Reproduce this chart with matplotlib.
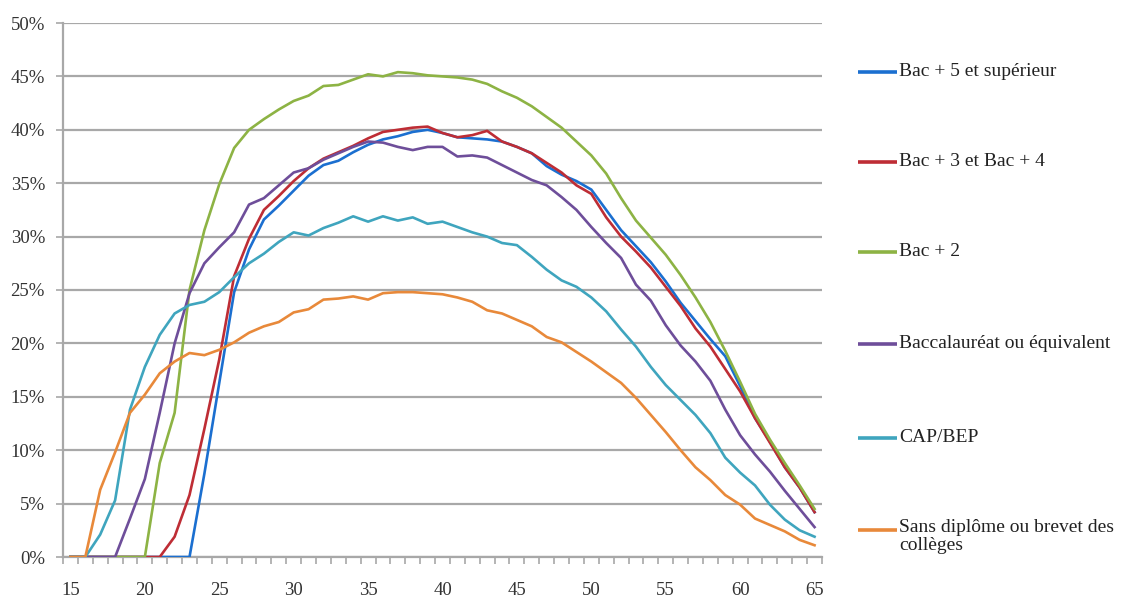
import numpy as np
import matplotlib
matplotlib.use("Agg")
import matplotlib.pyplot as plt
from matplotlib.lines import Line2D
from matplotlib.ticker import FuncFormatter

ages = list(range(15, 66))

series_names = [
    "Bac + 5 et supérieur",
    "Bac + 3 et Bac + 4",
    "Bac + 2",
    "Baccalauréat ou équivalent",
    "CAP/BEP",
    "Sans diplôme ou brevet des\ncollèges",
]

bac5 = [0, 0, 0, 0, 0, 0, 0, 0, 0, 7.8, 16.3, 24.8, 28.8, 31.6, 32.9, 34.3, 35.7, 36.7, 37.1, 37.9,
        38.6, 39.1, 39.4, 39.8, 40.0, 39.7, 39.3, 39.2, 39.1, 38.9, 38.4, 37.8, 36.6, 35.8, 35.2,
        34.4, 32.5, 30.6, 29.1, 27.6, 25.8, 23.8, 22.1, 20.4, 18.8, 16.0, 13.0, 10.8, 8.4, 6.5, 4.2]
bac34 = [0, 0, 0, 0, 0, 0, 0, 1.9, 5.8, 12.0, 18.5, 26.3, 29.8, 32.5, 33.8, 35.2, 36.4, 37.3, 37.9, 38.5,
         39.2, 39.8, 40.0, 40.2, 40.3, 39.7, 39.3, 39.5, 39.9, 38.9, 38.4, 37.8, 36.9, 36.0, 34.8,
         34.0, 31.8, 30.0, 28.6, 27.1, 25.3, 23.5, 21.4, 19.7, 17.6, 15.5, 13.0, 10.7, 8.4, 6.5, 4.2]
bac2 = [0, 0, 0, 0, 0, 0, 8.8, 13.5, 25.0, 30.6, 34.9, 38.3, 40.0, 41.0, 41.9, 42.7, 43.2, 44.1, 44.2, 44.7,
        45.2, 45.0, 45.4, 45.3, 45.1, 45.0, 44.9, 44.7, 44.3, 43.6, 43.0, 42.2, 41.2, 40.2, 38.9,
        37.6, 35.9, 33.6, 31.5, 29.9, 28.3, 26.4, 24.3, 22.0, 19.3, 16.4, 13.4, 11.0, 8.8, 6.7, 4.5]
bac = [0, 0, 0, 0, 3.6, 7.3, 13.5, 20.0, 24.7, 27.5, 29.0, 30.4, 33.0, 33.6, 34.8, 36.0, 36.4, 37.2, 37.8, 38.4,
       38.9, 38.8, 38.4, 38.1, 38.4, 38.4, 37.5, 37.6, 37.4, 36.7, 36.0, 35.3, 34.8, 33.7, 32.5,
       30.9, 29.4, 28.0, 25.5, 24.0, 21.7, 19.8, 18.3, 16.5, 13.8, 11.4, 9.6, 8.0, 6.2, 4.5, 2.8]
cap = [0, 0, 2.1, 5.3, 13.8, 17.8, 20.8, 22.8, 23.6, 23.9, 24.8, 26.2, 27.5, 28.4, 29.5, 30.4, 30.1, 30.8, 31.3, 31.9,
       31.4, 31.9, 31.5, 31.8, 31.2, 31.4, 30.9, 30.4, 30.0, 29.4, 29.2, 28.1, 26.9, 25.9, 25.3,
       24.3, 23.0, 21.3, 19.7, 17.8, 16.1, 14.7, 13.3, 11.6, 9.3, 7.9, 6.7, 4.9, 3.5, 2.5, 1.9]
sans = [0, 0, 6.3, 9.8, 13.5, 15.2, 17.2, 18.3, 19.1, 18.9, 19.4, 20.1, 21.0, 21.6, 22.0, 22.9, 23.2, 24.1, 24.2, 24.4,
        24.1, 24.7, 24.8, 24.8, 24.7, 24.6, 24.3, 23.9, 23.1, 22.8, 22.2, 21.6, 20.6, 20.1, 19.2,
        18.3, 17.3, 16.3, 14.9, 13.3, 11.7, 10.0, 8.4, 7.2, 5.8, 4.9, 3.6, 3.0, 2.4, 1.6, 1.1]

values = [bac5, bac34, bac2, bac, cap, sans]
colors = ["#1B6FD0", "#BE2D35", "#8DB344", "#6E4E9A", "#3FA5BE", "#E8893A"]

x_labels = [15, 20, 25, 30, 35, 40, 45, 50, 55, 60, 65]
y_ticks = [0, 5, 10, 15, 20, 25, 30, 35, 40, 45, 50]

plt.rcParams['font.family'] = ['Liberation Serif', 'DejaVu Serif']

W, H = 1125, 600
fig = plt.figure(figsize=(W / 100, H / 100), dpi=100)
ax = fig.add_axes([63 / W, 43 / H, (822 - 63) / W, (557 - 23) / H])

grid_c = "#A8A8A8"
text_c = "#333333"
for v in y_ticks:
    ax.axhline(v, color=grid_c, lw=1.6, zorder=1)

for name, vals, c in zip(series_names, values, colors):
    ax.plot(ages, vals, color=c, lw=1.9, label=name, zorder=3, solid_joinstyle='round')

ax.set_xlim(14.5, 65.5)
ax.set_ylim(0, 50)

ax.set_yticks(y_ticks)
ax.yaxis.set_major_formatter(FuncFormatter(lambda v, p: f"{int(round(v))}%"))
ax.tick_params(axis='y', length=5, color=grid_c, width=1.2, labelsize=13.5, pad=8, labelcolor=text_c)

ax.set_xticks(np.arange(14.5, 66, 1))
ax.set_xticklabels([])
ax.tick_params(axis='x', which='major', length=5, color=grid_c, width=1.2)
ax.set_xticks(x_labels, minor=True)
ax.set_xticklabels([str(v) for v in x_labels], minor=True)
ax.tick_params(axis='x', which='minor', length=0, labelsize=13.5, pad=18, labelcolor=text_c)

for s in ['top', 'right']:
    ax.spines[s].set_visible(False)
for s in ['left', 'bottom']:
    ax.spines[s].set_color(grid_c)
    ax.spines[s].set_linewidth(1.6)

# manual legend (layout in pixels)
legend_rows_px = [72, 162, 252, 344, 438, 530]
hx0, hx1, tx = 858, 897, 899
for name, c, ypx in zip(series_names, colors, legend_rows_px):
    yf = 1 - ypx / H
    fig.add_artist(Line2D([hx0 / W, hx1 / W], [yf, yf], transform=fig.transFigure,
                          color=c, lw=2.6, solid_capstyle='butt'))
    fig.text(tx / W, yf, name, ha='left', va='top' if '\n' in name else 'center',
             fontsize=14, color="#222222", linespacing=1.05,
             transform=fig.transFigure)

# fix vertical alignment of the two-line entry so its first line is centred on the handle
for t in fig.texts:
    if '\n' in t.get_text():
        t.set_y(1 - (530 - 11) / H)

fig.savefig("out.png", dpi=100, facecolor="white")
